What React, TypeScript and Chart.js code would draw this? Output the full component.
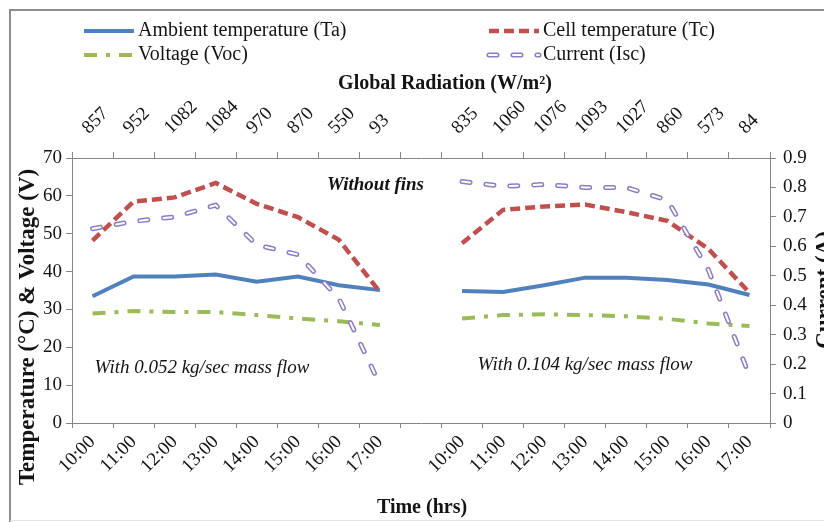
import React, { useEffect, useRef } from "react";
import { Chart, registerables } from "chart.js";

Chart.register(...registerables);

// ---- data ----
const times = ["10:00", "11:00", "12:00", "13:00", "14:00", "15:00", "16:00", "17:00"];
const radiationLow = ["857", "952", "1082", "1084", "970", "870", "550", "93"];
const radiationHigh = ["835", "1060", "1076", "1093", "1027", "860", "573", "84"];

const ambientLow = [33.5, 38.7, 38.7, 39.2, 37.3, 38.7, 36.4, 35.1];
const ambientHigh = [34.9, 34.6, 36.4, 38.4, 38.4, 37.8, 36.6, 33.8];

const cellLow = [48.2, 58.5, 59.6, 63.4, 57.9, 54.4, 48.4, 34.6];
const cellHigh = [47.5, 56.3, 57.2, 57.7, 55.7, 53.4, 46.0, 34.4];

const voltageLow = [28.9, 29.6, 29.3, 29.3, 28.5, 27.6, 26.9, 25.9];
const voltageHigh = [27.6, 28.5, 28.7, 28.5, 28.2, 27.5, 26.3, 25.6];

const currentLow = [0.66, 0.685, 0.7, 0.74, 0.605, 0.572, 0.423, 0.13];
const currentHigh = [0.82, 0.804, 0.81, 0.8, 0.8, 0.757, 0.52, 0.16];

const seriesNames = ["Ambient temperature (Ta)", "Cell temperature (Tc)", "Voltage (Voc)", "Current (Isc)"];

// build tables for the library
const bottomLabels = [...times, "", ...times];
const topLabels = [...radiationLow, "", ...radiationHigh];
const join = (a: number[], b: number[]) => [...a, null, ...b];

const FONT = "'Liberation Serif', 'Times New Roman', serif";
const AXIS = "#868686";
const TEXT = "#141414";

const decor = {
  id: "decor",
  beforeDraw(chart: any) {
    const { ctx, width, height } = chart;
    ctx.save();
    ctx.fillStyle = "#ffffff";
    ctx.fillRect(0, 0, width, height);
    ctx.strokeStyle = "#8c8c8c";
    ctx.lineWidth = 2;
    ctx.beginPath();
    ctx.moveTo(10, height);
    ctx.lineTo(10, 10);
    ctx.lineTo(width, 10);
    ctx.stroke();
    ctx.strokeStyle = "#e4e4e4";
    ctx.lineWidth = 1;
    ctx.beginPath();
    ctx.moveTo(10, height - 1.5);
    ctx.lineTo(width, height - 1.5);
    ctx.stroke();
    ctx.restore();
  },
  afterDatasetDraw(chart: any, args: any) {
    const ds = chart.data.datasets[args.index];
    if (!ds.hollow) return;
    const { ctx, chartArea } = chart;
    const pts = args.meta.data;
    ctx.save();
    ctx.beginPath();
    ctx.rect(chartArea.left, chartArea.top, chartArea.right - chartArea.left, chartArea.bottom - chartArea.top);
    ctx.clip();
    ctx.strokeStyle = "#ffffff";
    ctx.lineWidth = 2;
    ctx.lineCap = "round";
    ctx.lineJoin = "round";
    ctx.setLineDash(ds.borderDash);
    ctx.beginPath();
    let move = true;
    for (const p of pts) {
      if (p.skip) {
        move = true;
        continue;
      }
      if (move) ctx.moveTo(p.x, p.y);
      else ctx.lineTo(p.x, p.y);
      move = false;
    }
    ctx.stroke();
    ctx.restore();
  },
  afterDraw(chart: any) {
    const { ctx } = chart;
    const dss = chart.data.datasets;
    ctx.save();
    // legend
    const slots = [
      { i: 0, x: 84, y: 31 },
      { i: 1, x: 489, y: 31 },
      { i: 2, x: 84, y: 55 },
      { i: 3, x: 489, y: 55 },
    ];
    for (const s of slots) {
      const ds = dss[s.i];
      ctx.save();
      ctx.strokeStyle = ds.borderColor;
      ctx.lineWidth = ds.borderWidth;
      ctx.lineCap = ds.borderCapStyle || "butt";
      ctx.setLineDash(ds.borderDash || []);
      ctx.beginPath();
      ctx.moveTo(s.x, s.y);
      ctx.lineTo(s.x + 50, s.y);
      ctx.stroke();
      if (ds.hollow) {
        ctx.strokeStyle = "#ffffff";
        ctx.lineWidth = 2;
        ctx.beginPath();
        ctx.moveTo(s.x, s.y);
        ctx.lineTo(s.x + 50, s.y);
        ctx.stroke();
      }
      ctx.restore();
      ctx.fillStyle = TEXT;
      ctx.font = `20px ${FONT}`;
      ctx.textAlign = "left";
      ctx.textBaseline = "middle";
      ctx.fillText(ds.label, s.x + 54, s.y);
    }
    // titles
    ctx.fillStyle = TEXT;
    ctx.textAlign = "center";
    ctx.textBaseline = "middle";
    ctx.font = `bold 20px ${FONT}`;
    ctx.fillText("Global Radiation (W/m²)", 445, 84);
    ctx.fillText("Time (hrs)", 422, 508);
    ctx.font = `bold 23px ${FONT}`;
    ctx.save();
    ctx.translate(28, 327);
    ctx.rotate(-Math.PI / 2);
    ctx.fillText("Temperature (°C) & Voltage (V)", 0, 0);
    ctx.restore();
    ctx.save();
    ctx.translate(825, 290);
    ctx.rotate(-Math.PI / 2);
    ctx.fillText("Current (A)", 0, 0);
    ctx.restore();
    // annotations
    ctx.font = `italic bold 19px ${FONT}`;
    ctx.textAlign = "left";
    ctx.fillText("Without fins", 327, 185);
    ctx.font = `italic 19px ${FONT}`;
    ctx.textAlign = "center";
    ctx.fillText("With 0.052 kg/sec mass flow", 202, 368);
    ctx.fillText("With 0.104 kg/sec mass flow", 585, 365);
    ctx.restore();
  },
};

export default function App() {
  const ref = useRef<HTMLCanvasElement | null>(null);

  useEffect(() => {
    if (!ref.current) return;
    const tickFont = { family: FONT, size: 19 };
    const chart = new Chart(ref.current, {
      type: "line",
      data: {
        labels: bottomLabels,
        datasets: [
          {
            label: seriesNames[0],
            data: join(ambientLow, ambientHigh),
            borderColor: "#4F81BD",
            borderWidth: 4,
            pointRadius: 0,
            yAxisID: "y",
            order: 4,
          },
          {
            label: seriesNames[1],
            data: join(cellLow, cellHigh),
            borderColor: "#C0504D",
            borderWidth: 4.5,
            borderDash: [10, 5],
            pointRadius: 0,
            yAxisID: "y",
            order: 3,
          },
          {
            label: seriesNames[2],
            data: join(voltageLow, voltageHigh),
            borderColor: "#9BBB59",
            borderWidth: 4,
            borderDash: [13, 9, 4, 9],
            pointRadius: 0,
            yAxisID: "y",
            order: 2,
          },
          {
            label: seriesNames[3],
            data: join(currentLow, currentHigh),
            borderColor: "#8E7CC3",
            borderWidth: 5,
            borderDash: [8, 16],
            borderCapStyle: "round",
            pointRadius: 0,
            yAxisID: "y1",
            order: 1,
            hollow: true,
          } as any,
        ],
      },
      options: {
        animation: false,
        responsive: false,
        devicePixelRatio: 1,
        layout: { padding: { top: 88, left: 0, right: 0, bottom: 0 } },
        plugins: { legend: { display: false }, tooltip: { enabled: false } },
        scales: {
          x: {
            type: "category",
            position: "bottom",
            offset: true,
            grid: { offset: true, drawOnChartArea: false, drawTicks: true, tickLength: 5, color: AXIS },
            border: { color: AXIS, width: 1 },
            ticks: { autoSkip: false, minRotation: 45, maxRotation: 45, font: tickFont, color: TEXT, padding: 3 },
            afterFit: (s: any) => {
              s.height = 99;
            },
          },
          x2: {
            type: "category",
            position: "top",
            labels: topLabels,
            offset: true,
            grid: { offset: true, drawOnChartArea: false, drawTicks: true, tickLength: 6, color: AXIS },
            border: { color: AXIS, width: 1 },
            ticks: {
              autoSkip: false,
              minRotation: 45,
              maxRotation: 45,
              font: tickFont,
              color: TEXT,
              padding: 13,
              labelOffset: 9,
            },
            afterFit: (s: any) => {
              s.height = 70;
            },
          },
          y: {
            position: "left",
            min: 0,
            max: 70,
            grid: { drawOnChartArea: false, tickLength: 6, color: AXIS },
            border: { color: AXIS, width: 1 },
            ticks: { stepSize: 10, font: tickFont, color: TEXT, padding: 4 },
            afterFit: (s: any) => {
              s.width = 72;
            },
          },
          y1: {
            position: "right",
            min: 0,
            max: 0.9,
            grid: { drawOnChartArea: false, tickLength: 6, color: AXIS },
            border: { color: AXIS, width: 1 },
            ticks: {
              stepSize: 0.1,
              font: tickFont,
              color: TEXT,
              padding: 7,
              callback: (v: any) => String(Math.round(Number(v) * 10) / 10),
            },
            afterFit: (s: any) => {
              s.width = 54;
            },
          },
        },
      } as any,
      plugins: [decor],
    });
    return () => chart.destroy();
  }, []);

  return (
    <div style={{ position: "fixed", left: 0, top: 0, width: 824, height: 522, background: "#fff" }}>
      <canvas ref={ref} width={824} height={522} style={{ display: "block" }} />
    </div>
  );
}
